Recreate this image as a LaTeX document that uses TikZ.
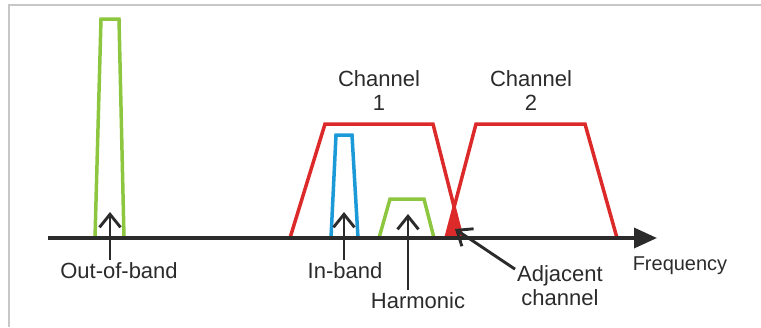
\documentclass[tikz,border=0pt]{standalone}
\usepackage{fontspec}
\setmainfont{Liberation Sans}
\usetikzlibrary{arrows.meta}

\definecolor{bandred}{HTML}{DC2A2A}
\definecolor{bandgreen}{HTML}{8DC63F}
\definecolor{bandblue}{HTML}{1C9AD8}
\definecolor{inkgray}{HTML}{2B2B2B}

\tikzset{spectre/.style = {x = 1pt, y = -1pt,
                           every node/.style = {font = \fontsize{22}{24.5}\selectfont, text = inkgray, inner sep = 2pt},
                          },
         band/.style = {draw = #1, line width = 3.5pt, line join = miter},
         band/.default = bandred,
         pointer/.style = {draw = inkgray, line width = 2.9pt, arrows = {-Straight Barb[length = 13pt, width = 21pt]}},
         axe/.style = {draw = inkgray, line width = 3.5pt, -{Triangle[length = 23pt, width = 20pt]}}
        }

\begin{document}
\begin{tikzpicture}[spectre]
  \useasboundingbox (0,0) rectangle (761,327);
  \draw[black!22, line width = 2pt] (9,327) -- (9,5) -- (761,5);

  % bandes parasites
  \draw[band = bandgreen] (95,238) -- (101,19) -- (119,19) -- (124,238);
  \draw[band = bandblue] (331,238) -- (336,135) -- (352,135) -- (358,238);
  \draw[band = bandgreen] (379,238) -- (390,199) -- (424,199) -- (434,238);

  % canaux
  \coordinate (c1a) at (290,238);
  \coordinate (c1b) at (325,124);
  \coordinate (c1c) at (433,124);
  \coordinate (c1d) at (462,238);
  \coordinate (c2a) at (446,238);
  \coordinate (c2b) at (476,124);
  \coordinate (c2c) at (585,124);
  \coordinate (c2d) at (617,238);
  \fill[bandred] (c2a) -- (intersection of c1c--c1d and c2a--c2b) -- (c1d) -- cycle;
  \draw[band] (c1a) -- (c1b) -- (c1c) -- (c1d);
  \draw[band] (c2a) -- (c2b) -- (c2c) -- (c2d);

  % axe
  \coordinate (origine) at (48,238);
  \coordinate (bout) at (657,238);
  \draw[axe] (origine) -- (bout);

  % etiquettes
  \node[align = center, anchor = north] (ch1) at (379,68) {Channel\\1};
  \node[align = center, anchor = north] (ch2) at (531,68) {Channel\\2};
  \node[anchor = base] (oob) at (119,278) {Out-of-band};
  \node[anchor = base] (inb) at (345,278) {In-band};
  \node[anchor = base] (harm) at (418,308) {Harmonic};
  \node[anchor = base, font = \fontsize{20}{24}\selectfont] (freq) at (680,270) {Frequency};
  \node[align = center, anchor = north] (adj) at (560,263) {Adjacent\\channel};

  % fleches
  \coordinate (ooptip) at (110,212);
  \coordinate (inbtip) at (344,212);
  \coordinate (harmtip) at (408,214);
  \coordinate (adjtip) at (455,229);
  \draw[pointer] (ooptip |- oob.north) -- (ooptip);
  \draw[pointer] (inbtip |- inb.north) -- (inbtip);
  \draw[pointer] (harmtip |- harm.north) -- (harmtip);
  \draw[pointer] (adj.160) -- (adjtip);
\end{tikzpicture}
\end{document}
